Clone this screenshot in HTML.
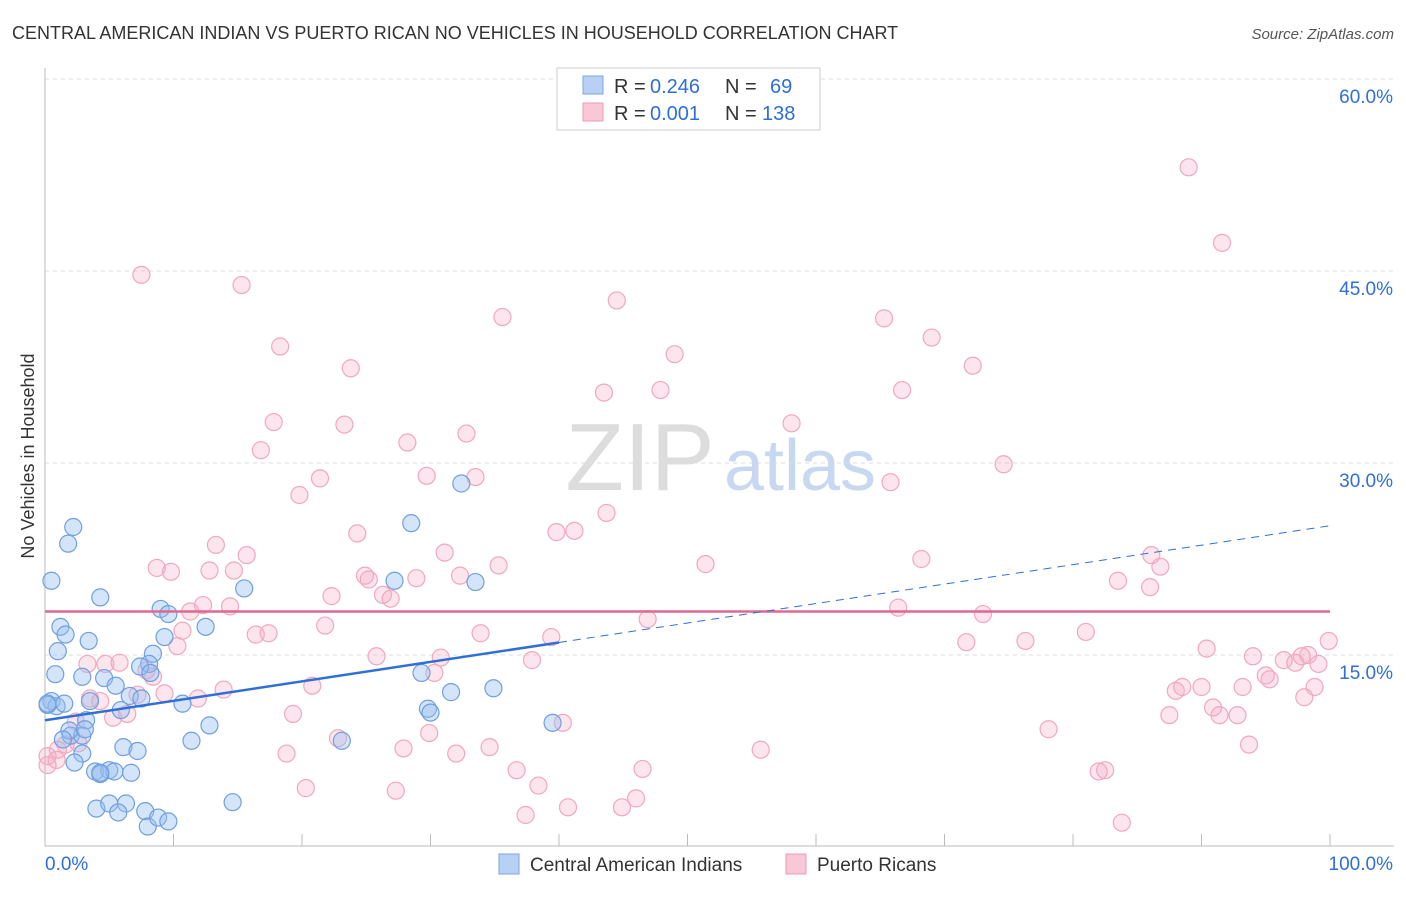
<!DOCTYPE html>
<html><head><meta charset="utf-8"><style>
body{margin:0;background:#fff;font-family:"Liberation Sans",sans-serif;}
svg text{font-family:"Liberation Sans",sans-serif;}
</style></head><body>
<svg id="c" width="1406" height="892">
<text x="12" y="39" font-size="18" fill="#333">CENTRAL AMERICAN INDIAN VS PUERTO RICAN NO VEHICLES IN HOUSEHOLD CORRELATION CHART</text>
<text x="1394" y="39" font-size="15" fill="#555" font-style="italic" text-anchor="end">Source: ZipAtlas.com</text>
<text transform="translate(34,456) rotate(-90)" font-size="18" fill="#333" text-anchor="middle">No Vehicles in Household</text>
<text x="640" y="490" font-size="96" fill="#ddd" font-family="Liberation Serif" text-anchor="middle">ZIP</text>
<text x="800" y="490" font-size="72" fill="#c8d8f0" text-anchor="middle">atlas</text>
<g id="grid"></g><g id="marks"></g>
<g>
<rect x="557" y="68" width="263" height="62" fill="#fff" stroke="#ccc"/>
<rect x="583" y="76" width="20" height="18" fill="#b8d0f4" stroke="#7aa6e6"/>
<rect x="583" y="103" width="20" height="18" fill="#f9c8d6" stroke="#ee9ab4"/>
<text x="614" y="93" font-size="20" fill="#333">R =</text>
<text x="650" y="93" font-size="20" fill="#2f6fd6">0.246</text>
<text x="725" y="93" font-size="20" fill="#333">N =</text>
<text x="770" y="93" font-size="20" fill="#2f6fd6">69</text>
<text x="614" y="120" font-size="20" fill="#333">R =</text>
<text x="650" y="120" font-size="20" fill="#2f6fd6">0.001</text>
<text x="725" y="120" font-size="20" fill="#333">N =</text>
<text x="762" y="120" font-size="20" fill="#2f6fd6">138</text>
</g>
<g>
<rect x="499" y="854" width="20" height="20" fill="#b8d0f4" stroke="#7aa6e6"/>
<text x="530" y="871" font-size="19" fill="#333">Central American Indians</text>
<rect x="786" y="854" width="20" height="20" fill="#f9c8d6" stroke="#ee9ab4"/>
<text x="817" y="871" font-size="19" fill="#333">Puerto Ricans</text>
</g>
</svg>
<script>
const yTicks=[15,30,45,60];
const xTickLabels=["0.0%","100.0%"];
const blueX=[2.2,1.8,0.5,4.3,9.0,9.6,15.5,12.5,1.2,1.6,3.4,1.0,8.4,9.3,8.1,7.4,0.8,2.9,4.6,5.5,6.6,7.5,0.5,0.9,1.5,3.5,10.7,5.9,3.2,0.2,12.8,2.0,2.9,11.4,6.1,7.2,2.9,2.3,3.9,5.0,5.4,4.3,6.7,4.0,5.0,6.3,5.7,7.8,8.0,8.8,9.6,14.6,28.5,32.4,27.2,33.5,29.3,31.6,29.8,30.0,34.9,39.5,23.1,0.2,1.9,1.4,3.1,8.2,4.3];
const blueY=[25.0,23.7,20.8,19.5,18.6,18.2,20.2,17.2,17.2,16.6,16.1,15.3,15.1,16.4,14.3,14.1,13.5,13.3,13.2,12.6,11.8,11.6,11.4,11.0,11.2,11.4,11.2,10.7,9.9,11.1,9.5,8.7,8.7,8.3,7.8,7.5,7.3,6.6,5.9,6.0,5.9,5.7,5.8,3.0,3.4,3.4,2.7,2.8,1.6,2.3,2.0,3.5,25.3,28.4,20.8,20.7,13.6,12.1,10.8,10.5,12.4,9.7,8.3,11.2,9.1,8.4,9.2,13.6,5.8];
const pinkX=[89,91.6,7.5,15.3,44.5,35.6,65.3,18.3,69.0,49.0,23.8,72.2,43.5,47.9,66.7,17.8,23.3,58.1,16.8,28.2,32.8,74.6,19.8,21.4,29.7,33.5,65.8,24.3,39.8,41.2,43.7,13.3,15.7,31.1,51.4,68.2,86.1,86.8,8.7,9.8,12.8,14.7,24.9,25.2,28.9,32.3,35.3,83.5,86.0,11.3,12.3,14.4,22.3,26.3,26.9,66.4,46.9,73.0,10.7,16.4,17.4,21.8,33.9,39.4,81.0,76.3,71.7,99.9,10.3,3.3,4.7,5.8,7.9,8.4,25.8,30.8,37.9,90.4,94.0,96.4,97.8,98.3,97.3,99.1,95.3,93.2,95.0,88.0,88.5,90.0,98.8,98.0,90.9,91.4,92.8,7.2,9.3,11.9,13.9,20.8,30.3,3.5,4.3,5.3,6.4,19.3,22.8,29.9,40.3,78.1,87.5,93.7,2.4,1.6,2.6,0.2,0.9,1.0,18.8,27.9,32.0,55.7,34.6,36.7,46.5,82.0,82.5,20.3,27.3,38.4,40.7,44.9,46.0,37.4,83.8,0.2];
const pinkY=[53.1,47.2,44.7,43.9,42.7,41.4,41.3,39.1,39.8,38.5,37.4,37.6,35.5,35.7,35.7,33.2,33.0,33.1,31.0,31.6,32.3,29.9,27.5,28.8,29.0,28.9,28.5,24.5,24.6,24.7,26.1,23.6,22.8,23.0,22.1,22.5,22.8,21.9,21.8,21.5,21.6,21.6,21.2,20.9,21.0,21.2,22.0,20.8,20.3,18.4,18.9,18.8,19.6,19.7,19.4,18.7,17.8,18.2,16.9,16.6,16.7,17.3,16.7,16.4,16.8,16.1,16.0,16.1,15.7,14.3,14.3,14.4,13.8,13.3,14.9,14.8,14.6,15.5,14.9,14.6,14.9,15.0,14.4,14.3,13.1,12.5,13.4,12.2,12.5,12.5,12.5,11.7,10.9,10.3,10.3,11.9,12.0,11.6,12.3,12.6,13.6,11.6,11.4,10.1,10.4,10.4,8.5,8.9,9.7,9.2,10.3,8.0,9.8,8.0,8.1,7.1,6.8,7.6,7.3,7.7,7.3,7.6,7.8,6.0,6.1,5.9,6.0,4.6,4.4,4.8,3.1,3.1,3.8,2.5,1.9,6.4];
const pinkMean=18.4, blueA=9.9, blueB=0.152;
const X=v=>45+v*12.85, Y=v=>847-v*12.8;
const ns="http://www.w3.org/2000/svg";
const grid=document.getElementById('grid'), marks=document.getElementById('marks');
function mk(p,tag,a){const e=document.createElementNS(ns,tag);for(const k in a)e.setAttribute(k,a[k]);p.appendChild(e);return e;}
yTicks.forEach(t=>{
 const l=mk(grid,'line',{x1:45,x2:1394,y1:Y(t),y2:Y(t),stroke:'#ddd','stroke-dasharray':'4,4'});
 
 
 const tx=mk(grid,'text',{x:1393,y:Y(t)+24,'font-size':19,fill:'#2f6fd6','text-anchor':'end'});tx.textContent=t.toFixed(1)+'%';
 
 
});
mk(grid,'line',{x1:45,x2:45,y1:68,y2:846,stroke:'#bbb'});
mk(grid,'line',{x1:45,x2:1394,y1:846,y2:846,stroke:'#bbb'});
for(let i=0;i<=10;i++){mk(grid,'line',{x1:X(i*10),x2:X(i*10),y1:846,y2:834,stroke:'#bbb'});}
xTickLabels.forEach((s,i)=>{const t=mk(grid,'text',{x:i?1393:45,y:870,'font-size':19,fill:'#2f6fd6','text-anchor':i?'end':'start'});t.textContent=s;
 
 });
pinkX.forEach((x,i)=>{const c=mk(marks,'circle',{cx:X(x),cy:Y(pinkY[i]),r:8.5,fill:'rgba(246,170,195,0.3)',stroke:'#f0a8be','stroke-width':1.2});
 
 });
blueX.forEach((x,i)=>{const c=mk(marks,'circle',{cx:X(x),cy:Y(blueY[i]),r:8.5,fill:'rgba(150,190,240,0.4)',stroke:'#6f9fe0','stroke-width':1.2});
 
 });
const pl=mk(marks,'line',{x1:X(0),x2:X(100),y1:Y(pinkMean),y2:Y(pinkMean),stroke:'#e06890','stroke-width':2.5});


const bl=mk(marks,'line',{x1:X(0),x2:X(40),y1:Y(blueA),y2:Y(blueA+blueB*40),stroke:'#2f6fd6','stroke-width':2.5});


const bd=mk(marks,'line',{x1:X(40),x2:X(100),y1:Y(blueA+blueB*40),y2:Y(blueA+blueB*100),stroke:'#2f6fd6','stroke-width':1,'stroke-dasharray':'8,6'});


</script>
</body></html>
